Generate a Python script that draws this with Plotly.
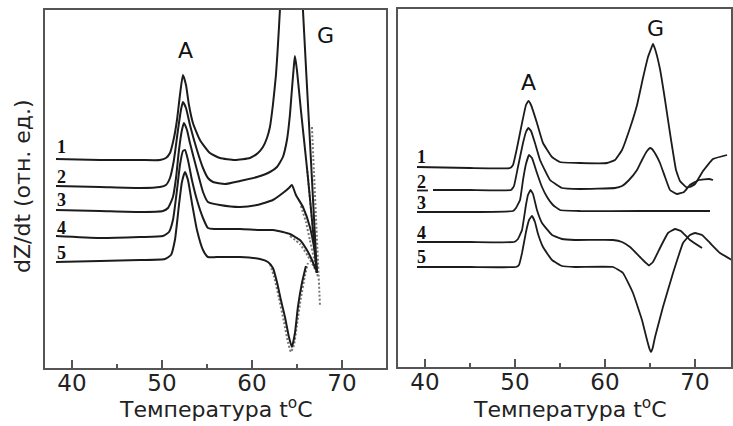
import plotly.graph_objects as go

# ---- left panel: curves 1..5 (temperature, dZ/dt in relative units) ----
l1_x = [38.22, 43.11, 47.56, 49.78, 50.44, 50.89, 51.33, 51.67, 52.0, 52.33, 52.67, 53.0, 53.44, 54.22,
        55.33, 56.44, 58.11, 59.78, 60.67, 61.22, 61.67, 62.0, 62.33, 62.67, 62.89, 63.11, 63.22, 64.5,
        65.67, 66.44, 67.22]
l1_y = [209, 208, 208, 208, 210, 215, 230, 248, 273, 293, 283, 263, 245, 228,
        215, 210, 208, 210, 215, 221, 230, 241, 263, 293, 323, 358, 388, 600,
        358, 228, 95]

l2_x = [38.22, 43.11, 47.56, 49.78, 50.44, 50.89, 51.33, 51.78, 52.11, 52.33, 52.67, 53.11, 53.89, 54.56,
        55.11, 55.67, 57.0, 58.67, 60.56, 62.0, 62.78, 63.44, 63.89, 64.22, 64.44, 64.67, 64.78, 65.0,
        65.44, 66.22, 66.78, 67.22]
l2_y = [182, 181, 180, 181, 183, 190, 208, 238, 258, 266, 260, 243, 218, 200,
        190, 186, 184, 187, 191, 196, 201, 211, 228, 253, 278, 303, 312, 298,
        258, 191, 138, 95]

l3_x = [38.22, 43.11, 47.56, 50.11, 50.67, 51.22, 51.56, 51.89, 52.22, 52.44, 52.78, 53.11, 53.89, 54.56,
        55.11, 56.44, 58.67, 60.56, 62.33, 63.44, 64.11, 64.44, 64.89, 65.67, 66.44, 67.0, 67.22]
l3_y = [158, 157, 156, 157, 160, 171, 190, 218, 238, 245, 238, 225, 198, 176,
        166, 163, 161, 163, 168, 175, 180, 183, 173, 161, 141, 115, 96]

l4_x = [38.22, 43.11, 47.56, 50.11, 50.78, 51.22, 51.67, 52.0, 52.33, 52.56, 52.89, 53.33, 53.89, 54.56,
        55.11, 55.89, 58.67, 60.89, 62.33, 63.44, 64.22, 65.33, 66.11, 66.67, 67.11]
l4_y = [132, 130, 131, 132, 136, 148, 178, 203, 217, 218, 208, 188, 168, 150,
        140, 139, 139, 138, 138, 136, 134, 128, 118, 108, 98]

l5_x = [38.22, 43.11, 47.56, 50.33, 51.0, 51.44, 51.89, 52.22, 52.56, 52.89, 53.33, 53.89, 54.56, 55.11,
        56.44, 58.67, 60.89, 61.78, 62.33, 62.78, 63.22, 63.67, 64.11, 64.44, 64.78, 65.11, 65.56, 66.0]
l5_y = [106, 107, 108, 109, 113, 128, 163, 186, 196, 188, 165, 138, 118, 111,
        111, 111, 109, 106, 100, 86, 68, 51, 31, 21, 35, 61, 85, 102]

# dotted (calculated) curves near the G transition, left panel
d1_x = [66.67, 67.11, 67.56]
d1_y = [241, 152, 63]
d2_x = [66.11, 66.67, 67.22]
d2_y = [201, 148, 95]
d3_x = [64.22, 65.33, 66.22, 66.89, 67.33]
d3_y = [132, 124, 112, 101, 92]
d4_x = [65.44, 66.0, 66.44, 66.89, 67.22]
d4_y = [162, 146, 128, 110, 98]
d5_x = [62.0, 62.44, 63.0, 63.56, 64.0, 64.33, 64.67, 65.0, 65.44, 65.89, 66.22]
d5_y = [104, 92, 70, 46, 26, 16, 23, 43, 70, 92, 105]

# ---- right panel: curves 1..5 ----
r1_x = [39.11, 45.0, 49.44, 49.78, 50.22, 50.78, 51.22, 51.5, 51.78, 52.44, 53.11, 54.11, 55.0, 57.22,
        60.22, 61.11, 61.89, 62.78, 63.56, 64.22, 64.78, 65.11, 65.33, 65.56, 66.11, 66.67, 67.22, 67.89,
        68.33, 69.0, 69.44, 70.0, 70.89, 72.0, 73.56]
r1_y = [200, 199, 199, 202, 219, 244, 262, 266, 262, 244, 224, 210, 205, 204,
        204, 207, 217, 239, 262, 289, 310, 318, 323, 318, 298, 267, 234, 197,
        186, 180, 180, 183, 196, 208, 212]

r2_x = [39.11, 40.33, None, 40.89, 45.0, 49.56, 49.89, 50.33, 50.89, 51.22, 51.5, 51.78, 52.22, 52.78,
        53.89, 55.22, 57.22, 61.11, 61.89, 62.67, 63.56, 64.11, 64.67, 65.0, 65.22, 65.67, 66.11, 66.67, 67.22,
        68.0, 68.78, 69.44, 70.44, 71.56, 72.0]
r2_y = [176.5, 176.5, None, 177, 177, 177, 181, 200, 224, 235, 239, 236, 224, 207,
        187, 179, 178, 179, 181, 187, 197, 207, 216, 219, 218, 212, 204, 190, 177,
        173, 175, 182, 187, 188, 187]

r3_x = [39.11, 45.0, 49.78, 50.11, 50.56, 50.89, 51.22, 51.56, 51.89, 52.44, 53.0, 53.56, 54.22, 55.0,
        57.22, 63.89, 71.67]
r3_y = [155, 155, 156, 159, 167, 187, 203, 212, 209, 194, 180, 170, 162, 157,
        156, 156, 156]

r4_x = [39.11, 45.0, 49.89, 50.33, 50.78, 51.22, 51.44, 51.72, 52.0, 52.44, 53.0, 54.11, 55.22, 56.67,
        60.89, 61.89, 62.78, 63.89, 64.56, 64.89, 65.33, 66.11, 67.0, 67.78, 68.44, 69.44, 70.78]
r4_y = [125, 125, 125, 128, 137, 162, 172, 177, 173, 157, 144, 132, 128, 127,
        127, 125, 120, 110, 104, 101.5, 105, 119, 134, 138, 136, 127, 119]

r5_x = [39.11, 45.0, 50.11, 50.44, 50.78, 51.22, 51.56, 51.89, 52.22, 52.56, 53.11, 54.11, 55.22, 56.67,
        60.89, 62.0, 63.11, 64.11, 64.67, 64.95, 65.11, 65.3, 65.56, 66.44, 67.56, 68.67, 69.44, 70.0, 70.78,
        71.67, 72.78, 74.11]
r5_y = [100, 100, 100, 102, 114, 135, 147, 151, 145, 133, 120, 107, 101, 100,
        100, 94, 74, 47, 27, 18, 15, 19, 30, 60, 94, 124, 132, 134, 132,
        124, 114, 107]

curve_labels = ["1", "2", "3", "4", "5"]
x_ticks = [40, 50, 60, 70]
x_minor = [45, 55, 65]
x_title = "Температура t<sup>o</sup>C"
y_title = "dZ/dt (отн. ед.)"

INK = "#1c1c1c"
FRAME = "#555555"
SANS = "DejaVu Sans"

fig = go.Figure()

left = [(l1_x, l1_y), (l2_x, l2_y), (l3_x, l3_y), (l4_x, l4_y), (l5_x, l5_y)]
right = [(r1_x, r1_y), (r2_x, r2_y), (r3_x, r3_y), (r4_x, r4_y), (r5_x, r5_y)]
dotted = [(d1_x, d1_y), (d2_x, d2_y), (d3_x, d3_y), (d4_x, d4_y), (d5_x, d5_y)]

for xs, ys in dotted:
    fig.add_trace(go.Scatter(x=xs, y=ys, mode="lines", xaxis="x", yaxis="y",
                             line=dict(color="#777777", width=2, dash="2px,2px", shape="spline", smoothing=0.5),
                             showlegend=False, hoverinfo="skip"))
for xs, ys in left:
    fig.add_trace(go.Scatter(x=xs, y=ys, mode="lines", xaxis="x", yaxis="y",
                             line=dict(color=INK, width=2, shape="spline", smoothing=0.5),
                             showlegend=False, hoverinfo="skip"))
for xs, ys in right:
    fig.add_trace(go.Scatter(x=xs, y=ys, mode="lines", xaxis="x2", yaxis="y2",
                             line=dict(color=INK, width=1.8, shape="spline", smoothing=0.3),
                             showlegend=False, hoverinfo="skip"))

W, H = 733, 426


def xaxis_style(domain, rng, anchor):
    return dict(domain=domain, range=rng, anchor=anchor,
                showline=True, mirror=True, linecolor=FRAME, linewidth=1.5,
                showgrid=False, zeroline=False,
                tickmode="array", tickvals=x_ticks, ticks="inside", ticklen=8,
                tickwidth=1.5, tickcolor=FRAME, ticklabelstandoff=-6,
                minor=dict(tickmode="array", tickvals=x_minor, ticks="inside", ticklen=4,
                           tickwidth=1.5, tickcolor=FRAME),
                tickfont=dict(family=SANS, size=23, color="#222222"))


def yaxis_style(domain, anchor):
    return dict(domain=domain, range=[0, 358], anchor=anchor,
                showline=True, mirror=True, linecolor=FRAME, linewidth=1.5,
                showgrid=False, zeroline=False, showticklabels=False, ticks="")


annotations = []
# peak labels A and G
for txt, x, y, xr, yr in [("A", 52.61, 318, "x", "y"), ("G", 68.17, 333, "x", "y"),
                          ("A", 51.52, 284, "x2", "y2"), ("G", 65.65, 338, "x2", "y2")]:
    annotations.append(dict(text=txt, x=x, y=y, xref=xr, yref=yr, showarrow=False,
                            xanchor="center", yanchor="middle",
                            font=dict(family=SANS, size=22, color="#111111")))

# curve numbers
left_lab_y = [221, 191, 168, 140, 115]
right_lab_y = [210, 185, 164, 134, 110]
for lab, ly in zip(curve_labels, left_lab_y):
    annotations.append(dict(text="<b>%s</b>" % lab, x=38.85, y=ly, xref="x", yref="y", showarrow=False,
                            xanchor="center", yanchor="middle",
                            font=dict(family="Liberation Serif", size=18, color="#111111")))
for lab, ry in zip(curve_labels, right_lab_y):
    annotations.append(dict(text="<b>%s</b>" % lab, x=39.65, y=ry, xref="x2", yref="y2", showarrow=False,
                            xanchor="center", yanchor="middle",
                            font=dict(family="Liberation Serif", size=18, color="#111111")))

# axis titles
for cx in (216, 570):
    annotations.append(dict(text=x_title, x=cx / W, y=1 - 424 / H, xref="paper", yref="paper",
                            xanchor="center", yanchor="bottom",
                            showarrow=False, font=dict(family=SANS, size=22, color="#222222")))
annotations.append(dict(text=y_title, x=22 / W, y=1 - 186 / H, xref="paper", yref="paper",
                        xanchor="center", yanchor="middle", textangle=-90, showarrow=False,
                        font=dict(family=SANS, size=22, color="#222222")))

fig.update_layout(
    width=W, height=H,
    margin=dict(l=0, r=0, t=0, b=0),
    paper_bgcolor="white", plot_bgcolor="white",
    xaxis=xaxis_style([45 / W, 386 / W], [37, 74.9], "y"),
    yaxis=yaxis_style([1 - 368 / H, 1 - 10 / H], "x"),
    xaxis2=xaxis_style([398 / W, 731 / W], [37, 74], "y2"),
    yaxis2=yaxis_style([1 - 367 / H, 1 - 9 / H], "x2"),
    annotations=annotations,
)

fig.write_html("out.html", config={"displayModeBar": False})
